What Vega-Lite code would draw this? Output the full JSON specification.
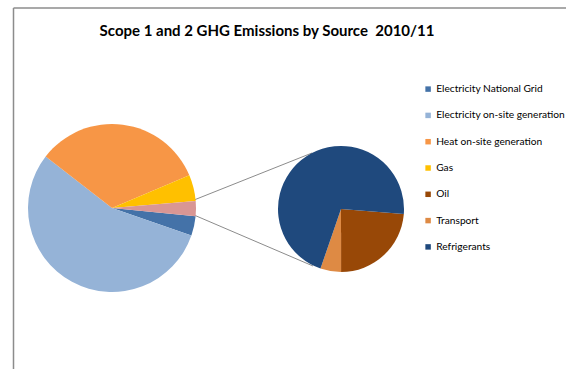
{
  "$schema": "https://vega.github.io/schema/vega-lite/v6.json",
  "width": 574,
  "height": 369,
  "padding": 0,
  "autosize": {"type": "none"},
  "background": "white",
  "config": {"view": {"stroke": null}},
  "title": {
    "text": "Scope 1 and 2 GHG Emissions by Source\u00a0 2010/11",
    "font": "Lato",
    "fontSize": 15,
    "fontWeight": "bold",
    "color": "#000000",
    "anchor": "middle",
    "baseline": "alphabetic",
    "offset": -51,
    "dx": -20
  },
  "datasets": {
    "main": [
      {"source": "Electricity National Grid", "share": 3.75, "ord": 1},
      {"source": "Electricity on-site generation", "share": 55.2, "ord": 2},
      {"source": "Heat on-site generation", "share": 33.1, "ord": 3},
      {"source": "Gas", "share": 5.05, "ord": 4},
      {"source": "Other", "share": 2.9, "ord": 5}
    ],
    "other": [
      {"source": "Oil", "share": 23.7, "ord": 1},
      {"source": "Transport", "share": 5.3, "ord": 2},
      {"source": "Refrigerants", "share": 71.0, "ord": 3}
    ]
  },
  "layer": [
    {
      "data": {"values": [{}]},
      "mark": {"type": "rule", "stroke": "#8c8c8c", "strokeWidth": 1.5},
      "encoding": {"x": {"value": 13.5}, "y": {"value": 8}, "x2": {"value": 13.5}, "y2": {"value": 369}}
    },
    {
      "data": {"values": [{}]},
      "mark": {"type": "rule", "stroke": "#8c8c8c", "strokeWidth": 1.5},
      "encoding": {"x": {"value": 13.5}, "y": {"value": 8}, "x2": {"value": 566}, "y2": {"value": 8}}
    },
    {
      "data": {"values": [{}]},
      "mark": {"type": "rule", "stroke": "#8c8c8c", "strokeWidth": 1},
      "encoding": {"x": {"value": 194}, "y": {"value": 200}, "x2": {"value": 312}, "y2": {"value": 153}}
    },
    {
      "data": {"values": [{}]},
      "mark": {"type": "rule", "stroke": "#8c8c8c", "strokeWidth": 1},
      "encoding": {"x": {"value": 194}, "y": {"value": 215}, "x2": {"value": 313}, "y2": {"value": 266}}
    },
    {
      "data": {"name": "main"},
      "mark": {"type": "arc", "x": 112, "y": 208, "outerRadius": 84},
      "encoding": {
        "theta": {"field": "share", "type": "quantitative", "stack": true,
                  "scale": {"range": [1.6686, 7.9518]}},
        "order": {"field": "ord", "type": "quantitative"},
        "color": {
          "field": "source", "type": "nominal",
          "scale": {
            "domain": ["Electricity National Grid", "Electricity on-site generation", "Heat on-site generation", "Gas", "Oil", "Transport", "Refrigerants", "Other"],
            "range": ["#4472a8", "#95b3d7", "#f79646", "#ffc000", "#984807", "#de8a44", "#1f497d", "#d99694"]
          },
          "legend": {
            "values": ["Electricity National Grid", "Electricity on-site generation", "Heat on-site generation", "Gas", "Oil", "Transport", "Refrigerants"],
            "title": null,
            "orient": "none",
            "legendX": 423,
            "legendY": 84,
            "symbolType": "square",
            "symbolSize": 30,
            "symbolStrokeWidth": 0,
            "labelFont": "Lato",
            "labelFontSize": 10.2,
            "labelColor": "#000000",
            "labelOffset": 3,
            "rowPadding": 15.3,
            "labelLimit": 200
          }
        }
      }
    },
    {
      "data": {"name": "other"},
      "mark": {"type": "arc", "x": 341, "y": 209, "outerRadius": 63},
      "encoding": {
        "theta": {"field": "share", "type": "quantitative", "stack": true,
                  "scale": {"range": [1.6511, 7.9343]}},
        "order": {"field": "ord", "type": "quantitative"},
        "color": {"field": "source", "type": "nominal"}
      }
    }
  ],
  "resolve": {"scale": {"theta": "independent"}}
}
